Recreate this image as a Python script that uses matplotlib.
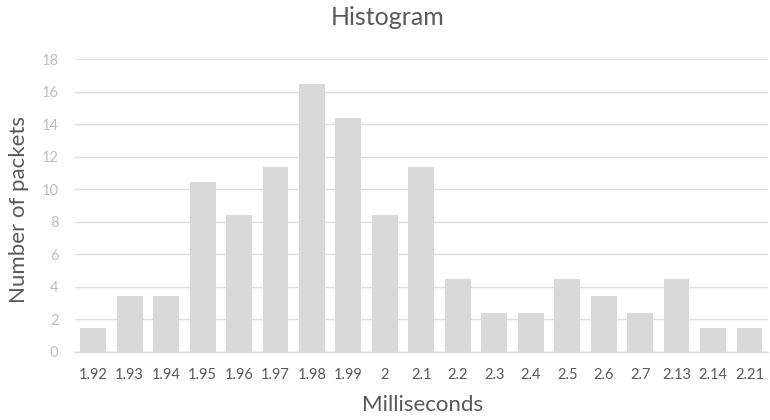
import matplotlib.pyplot as plt

# categories and counts
labels = ['1.92', '1.93', '1.94', '1.95', '1.96', '1.97', '1.98', '1.99', '2',
          '2.1', '2.2', '2.3', '2.4', '2.5', '2.6', '2.7', '2.13', '2.14', '2.21']
counts = [1.45, 3.4, 3.4, 10.45, 8.4, 11.4, 16.45, 14.4, 8.4,
          11.4, 4.45, 2.4, 2.4, 4.45, 3.4, 2.4, 4.45, 1.45, 1.45]
yticks = [0, 2, 4, 6, 8, 10, 12, 14, 16, 18]

plt.rcParams['font.family'] = ['Lato', 'DejaVu Sans']

fig = plt.figure(figsize=(7.7, 4.2), dpi=100)
ax = fig.add_axes([0.0974, 0.1626, 0.8996, 0.6962])

x = range(len(labels))
ax.bar(x, counts, width=0.71, color='#d9d9d9', zorder=2)

ax.set_xlim(-0.5, len(labels) - 0.5)
ax.set_ylim(0, 18)
ax.set_yticks(yticks)
ax.set_xticks(list(x))
ax.set_xticklabels(labels, fontsize=10.5, color='#595959')
ax.tick_params(axis='y', labelsize=10.5, labelcolor='#bfbfbf', length=0, pad=12)
ax.tick_params(axis='x', length=0, pad=12)

ax.grid(axis='y', color='#e0e0e0', linewidth=1, zorder=0)
for s in ['top', 'right', 'left']:
    ax.spines[s].set_visible(False)
ax.spines['bottom'].set_color('#d9d9d9')
ax.spines['bottom'].set_linewidth(1)

fig.text(0.503, 0.958, 'Histogram', fontsize=18, color='#595959',
         ha='center', va='center')
fig.text(0.549, 0.036, 'Milliseconds', fontsize=16, color='#595959',
         ha='center', va='center')
fig.text(0.025, 0.501, 'Number of packets', fontsize=16, color='#595959',
         ha='center', va='center', rotation=90)

fig.savefig('out.png', dpi=100)
